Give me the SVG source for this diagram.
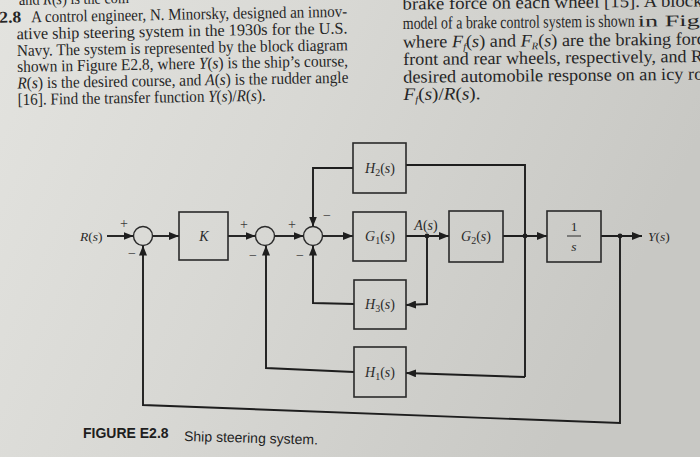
<svg xmlns="http://www.w3.org/2000/svg" width="700" height="457" viewBox="0 0 700 457">
<defs>
<linearGradient id="bg" x1="0" y1="0" x2="1" y2="0.3">
<stop offset="0" stop-color="#e3e3df"/>
<stop offset="0.45" stop-color="#d8d8d4"/>
<stop offset="1" stop-color="#c8c8c4"/>
</linearGradient>
<marker id="ah" markerUnits="userSpaceOnUse" markerWidth="10" markerHeight="8" refX="10" refY="4" orient="auto">
<path d="M0,0 L10,4 L0,8 z" fill="#1e1e1e"/>
</marker>
<style>
.p{font-family:"Liberation Serif",serif;font-size:16.5px;fill:#262626}
.q{font-family:"Liberation Serif",serif;font-size:17.5px;fill:#262626}
.qs{font-family:"Liberation Serif",serif;font-size:16px;fill:#262626}
.i{font-style:italic}
.b{font-weight:bold}
.box{fill:none;stroke:#2a2a2a;stroke-width:1.6}
.sum{fill:none;stroke:#2a2a2a;stroke-width:1.4}
.ln{fill:none;stroke:#1e1e1e;stroke-width:1.9}
.ar{marker-end:url(#ah)}
.lbl{font-family:"Liberation Serif",serif;font-size:14px;fill:#2a2a2a}
.lbs{font-family:"Liberation Serif",serif;font-size:13.5px;fill:#2a2a2a}
.sub{font-size:10px}
.sg{font-family:"Liberation Serif",serif;font-size:14px;fill:#3a3a3a}
.cap{font-family:"Liberation Sans",Arial,sans-serif;font-size:14px;fill:#1e1e1e}
</style>
</defs>
<rect width="700" height="457" fill="url(#bg)"/>

<g id="text-left" transform="rotate(-1 17 60)">
<text class="p" x="20" y="5" textLength="110" lengthAdjust="spacingAndGlyphs">and <tspan class="i">R</tspan>(<tspan class="i">s</tspan>) is the com</text>
<text class="p b" x="0" y="22.5" textLength="22" lengthAdjust="spacingAndGlyphs">2.8</text>
<text class="p" x="32" y="22.5" textLength="316" lengthAdjust="spacingAndGlyphs">A control engineer, N. Minorsky, designed an innov-</text>
<text class="p" x="17" y="39.3" textLength="331" lengthAdjust="spacingAndGlyphs">ative ship steering system in the 1930s for the U.S.</text>
<text class="p" x="17" y="56" textLength="331" lengthAdjust="spacingAndGlyphs">Navy. The system is represented by the block diagram</text>
<text class="p" x="17" y="72" textLength="331" lengthAdjust="spacingAndGlyphs">shown in Figure E2.8, where <tspan class="i">Y</tspan>(<tspan class="i">s</tspan>) is the ship’s course,</text>
<text class="p" x="17" y="88.5" textLength="331" lengthAdjust="spacingAndGlyphs"><tspan class="i">R</tspan>(<tspan class="i">s</tspan>) is the desired course, and <tspan class="i">A</tspan>(<tspan class="i">s</tspan>) is the rudder angle</text>
<text class="p" x="17" y="105" textLength="248" lengthAdjust="spacingAndGlyphs">[16]. Find the transfer function <tspan class="i">Y</tspan>(<tspan class="i">s</tspan>)/<tspan class="i">R</tspan>(<tspan class="i">s</tspan>).</text>
</g>

<g id="text-right" transform="rotate(-0.6 403 50)">
<text class="q" x="403" y="9.5" textLength="300" lengthAdjust="spacingAndGlyphs">brake force on each wheel [15]. A block</text>
<text class="q" x="403" y="29" textLength="232" lengthAdjust="spacingAndGlyphs">model of a brake control system is shown</text>
<text class="qs" x="638" y="29" textLength="62" lengthAdjust="spacingAndGlyphs">in Fig</text>
<text class="q" x="403" y="47.7" textLength="302" lengthAdjust="spacingAndGlyphs">where <tspan class="i">F</tspan><tspan class="i sub" dy="3">f</tspan><tspan dy="-3">(</tspan><tspan class="i">s</tspan>) and <tspan class="i">F</tspan><tspan class="i sub" dy="3">R</tspan><tspan dy="-3">(</tspan><tspan class="i">s</tspan>) are the braking forc</text>
<text class="q" x="403" y="65" textLength="300" lengthAdjust="spacingAndGlyphs">front and rear wheels, respectively, and R</text>
<text class="q" x="403" y="82.7" textLength="300" lengthAdjust="spacingAndGlyphs">desired automobile response on an icy ro</text>
<text class="q" x="403" y="100" textLength="77" lengthAdjust="spacingAndGlyphs"><tspan class="i">F</tspan><tspan class="i sub" dy="3">f</tspan><tspan dy="-3">(</tspan><tspan class="i">s</tspan>)/<tspan class="i">R</tspan>(<tspan class="i">s</tspan>).</text>
</g>

<g id="connectors">
<line class="ln ar" x1="107" y1="236" x2="133.5" y2="236"/>
<line class="ln ar" x1="152.5" y1="236" x2="179" y2="236"/>
<line class="ln ar" x1="228" y1="236" x2="255.5" y2="236"/>
<line class="ln ar" x1="274.5" y1="236" x2="303.5" y2="236"/>
<line class="ln ar" x1="322.5" y1="236" x2="353" y2="236"/>
<line class="ln ar" x1="406" y1="236" x2="449" y2="236"/>
<line class="ln ar" x1="503" y1="236" x2="547" y2="236"/>
<line class="ln ar" x1="601" y1="236" x2="642" y2="236"/>
<polyline class="ln ar" points="353,168 313,168 313,226.5"/>
<polyline class="ln" points="406,165 525,165 525,377"/>
<polyline class="ln ar" points="525,377 406,373"/>
<polyline class="ln ar" points="354,304 313,303 313,245.5"/>
<polyline class="ln ar" points="427,236 427,304 406,305"/>
<polyline class="ln ar" points="354,372 266,368 266,245.5"/>
<polyline class="ln ar" points="620,236 620,423 143,405 143,245.5"/>
<circle cx="427" cy="236" r="2.4" fill="#1e1e1e"/>
<circle cx="525" cy="236" r="2.4" fill="#1e1e1e"/>
<circle cx="620" cy="236" r="2.4" fill="#1e1e1e"/>
</g>

<g id="R-label"><text class="lbs" x="80" y="241"><tspan class="i">R</tspan>(<tspan class="i">s</tspan>)</text></g>
<g id="Y-label"><text class="lbs" x="648" y="241"><tspan class="i">Y</tspan>(<tspan class="i">s</tspan>)</text></g>
<g id="A-label"><text class="lbl" x="426" y="230" text-anchor="middle"><tspan class="i">A</tspan>(<tspan class="i">s</tspan>)</text></g>

<g id="sum1">
<circle class="sum" cx="143" cy="236" r="9.5"/>
<text class="sg" x="124" y="228" text-anchor="middle">+</text>
<text class="sg" x="132" y="258" text-anchor="middle">−</text>
</g>
<g id="sum2">
<circle class="sum" cx="265" cy="236" r="9.5"/>
<text class="sg" x="244" y="229" text-anchor="middle">+</text>
<text class="sg" x="253" y="260" text-anchor="middle">−</text>
</g>
<g id="sum3">
<circle class="sum" cx="313" cy="236" r="9.5"/>
<text class="sg" x="292" y="229" text-anchor="middle">+</text>
<text class="sg" x="327" y="220" text-anchor="middle">−</text>
<text class="sg" x="300" y="260" text-anchor="middle">−</text>
</g>

<g id="K">
<rect class="box" x="179" y="212" width="49" height="48"/>
<text class="lbl i" x="204" y="241" text-anchor="middle">K</text>
</g>
<g id="G1">
<rect class="box" x="353" y="212" width="53" height="49"/>
<text class="lbl" x="380" y="241" text-anchor="middle"><tspan class="i">G</tspan><tspan class="sub" dy="3">1</tspan><tspan dy="-3">(</tspan><tspan class="i">s</tspan>)</text>
</g>
<g id="G2">
<rect class="box" x="449" y="211" width="54" height="51"/>
<text class="lbl" x="476" y="241" text-anchor="middle"><tspan class="i">G</tspan><tspan class="sub" dy="3">2</tspan><tspan dy="-3">(</tspan><tspan class="i">s</tspan>)</text>
</g>
<g id="integrator">
<rect class="box" x="547" y="211" width="54" height="51"/>
<text class="lbs" x="574" y="231" text-anchor="middle">1</text>
<line x1="567" y1="236" x2="581" y2="236" stroke="#2a2a2a" stroke-width="1"/>
<text class="lbs i" x="574" y="251" text-anchor="middle">s</text>
</g>
<g id="H2">
<rect class="box" x="353" y="143" width="53" height="50"/>
<text class="lbl" x="380" y="173" text-anchor="middle"><tspan class="i">H</tspan><tspan class="sub" dy="3">2</tspan><tspan dy="-3">(</tspan><tspan class="i">s</tspan>)</text>
</g>
<g id="H3">
<rect class="box" x="354" y="280" width="52" height="49"/>
<text class="lbl" x="380" y="309" text-anchor="middle"><tspan class="i">H</tspan><tspan class="sub" dy="3">3</tspan><tspan dy="-3">(</tspan><tspan class="i">s</tspan>)</text>
</g>
<g id="H1">
<rect class="box" x="354" y="347" width="52" height="50"/>
<text class="lbl" x="380" y="377" text-anchor="middle"><tspan class="i">H</tspan><tspan class="sub" dy="3">1</tspan><tspan dy="-3">(</tspan><tspan class="i">s</tspan>)</text>
</g>

<g id="caption">
<text class="cap" x="83" y="438"><tspan font-weight="bold">FIGURE E2.8</tspan></text>
<text class="cap" x="184" y="441" transform="rotate(1.5 184 441)">Ship steering system.</text>
</g>
</svg>
